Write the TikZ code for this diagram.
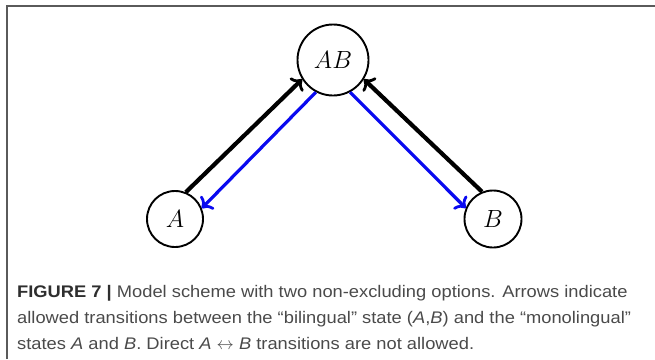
\documentclass[tikz,border=0pt]{standalone}
\usepackage{fontspec}
\setsansfont[FakeStretch=1.09]{Liberation Sans}
\usetikzlibrary{arrows.meta}
\definecolor{frame}{HTML}{5A5A5A}
\definecolor{captxt}{HTML}{4A4A4A}
\definecolor{capbold}{HTML}{2E2E2E}
\definecolor{arrblue}{HTML}{0A0AF0}
\tikzset{
  state/.style={circle, draw=black, line width=1.9pt, inner sep=0pt, font=\fontsize{25}{30}\selectfont},
  uparrow/.style={draw=black, line width=4.2pt, -{Computer Modern Rightarrow[length=9pt,width=19pt,line width=2.8pt]}},
  downarrow/.style={draw=arrblue, line width=3.2pt, -{Computer Modern Rightarrow[length=9pt,width=19pt,line width=2.8pt]}},
  captionline/.style={anchor=base west, inner sep=0pt, text=captxt, font=\sffamily\fontsize{16.8}{26}\selectfont}
}
\begin{document}
\begin{tikzpicture}[x=1pt, y=-1pt]
\useasboundingbox (0,0) rectangle (655,359);
\coordinate (fl) at (7,359);
\coordinate (tl) at (7,6);
\coordinate (tr) at (655,6);
\draw[frame, line width=2pt] (fl) -- (tl) -- (tr);
\node[state, minimum size=71pt] (AB) at (333,60) {$AB$};
\node[state, minimum size=56pt] (A) at (175,219) {$A$};
\node[state, minimum size=57pt] (B) at (493,219) {$B$};
\draw[uparrow] (A.68) -- (AB.212);
\draw[downarrow] (AB.242) -- (A.22);
\draw[uparrow] (B.112) -- (AB.328);
\draw[downarrow] (AB.298) -- (B.158);
\node[captionline] (l1) at (17,297) {\textcolor{capbold}{\textbf{FIGURE 7 |}} Model scheme with two non-excluding options. Arrows indicate};
\node[captionline] (l2) at (17,323) {allowed transitions between the “bilingual” state (\textit{A},\textit{B}) and the “monolingual”};
\node[captionline] (l3) at (17,349) {states \textit{A} and \textit{B}. Direct \textit{A} $\leftrightarrow$ \textit{B} transitions are not allowed.};
\end{tikzpicture}
\end{document}
